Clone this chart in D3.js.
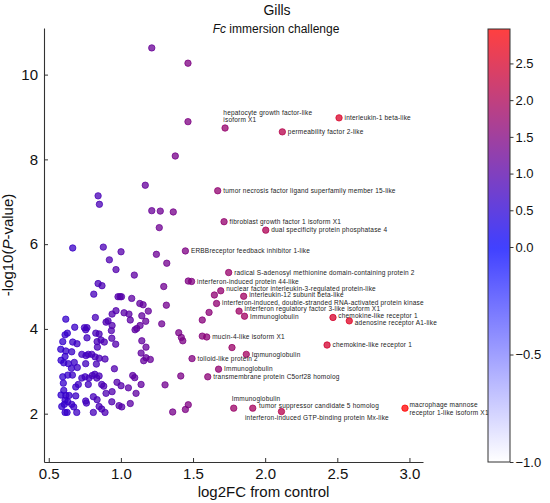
<!DOCTYPE html>
<html>
<head>
<meta charset="utf-8">
<script src="https://cdn.jsdelivr.net/npm/d3@7"></script>
<style>
  body { margin: 0; background: #fff; }
  svg { display: block; }
  text { font-family: "Liberation Sans", Arial, sans-serif; }
</style>
</head>
<body>
<svg id="svg"></svg>
<script>
// unlabelled genes: [log2FC, -log10(P)]
const otherGenes = [
  [1.214,10.63],[1.465,10.27],[1.465,8.89],[1.377,8.08],[1.169,7.39],[0.842,7.14],[0.851,6.94],
  [1.214,6.79],[1.273,6.78],[1.363,6.76],[1.266,6.39],[0.666,5.91],[0.878,5.93],[1.001,5.82],
  [1.246,5.76],[1.318,5.55],[0.920,5.63],[0.966,5.40],[1.093,5.27],[0.842,5.07],[0.869,5.02],
  [1.297,5.00],[0.812,4.82],[0.980,4.76],[0.994,4.76],[1.004,4.76],[1.075,4.72],[1.131,4.60],
  [1.154,4.57],[1.315,4.56],[0.966,4.43],[0.939,4.35],[1.022,4.38],[1.056,4.35],[1.190,4.42],
  [1.145,4.31],[0.618,4.23],[0.823,4.27],[1.065,4.21],[1.172,4.18],[0.911,4.19],[0.897,4.16],
  [0.939,4.08],[1.283,4.12],[0.680,4.04],[0.747,4.03],[0.765,4.03],[0.756,3.98],[1.110,4.01],
  [1.098,3.98],[1.133,4.08],[0.934,3.96],[0.629,3.90],[0.613,3.86],[0.826,3.90],[0.849,3.88],
  [0.937,3.78],[0.765,3.79],[0.835,3.70],[0.862,3.74],[0.885,3.69],[0.964,3.64],[0.837,3.57],
  [0.597,3.70],[0.666,3.69],[0.696,3.65],[0.583,3.52],[0.618,3.48],[0.613,3.35],[0.659,3.46],
  [0.729,3.40],[0.758,3.37],[0.774,3.40],[0.798,3.40],[0.821,3.34],[0.849,3.31],[0.890,3.29],
  [0.585,3.26],[0.604,3.20],[0.636,3.18],[0.677,3.21],[0.698,3.09],[0.756,3.18],[0.830,3.17],
  [0.657,3.07],[0.955,3.06],[1.145,3.72],[1.174,3.57],[1.140,3.43],[1.174,3.32],[1.158,3.25],
  [1.204,3.28],[0.597,2.87],[0.632,2.91],[0.664,2.91],[0.601,2.72],[0.729,2.84],[0.752,2.87],
  [0.779,2.84],[0.802,2.90],[0.833,2.84],[0.849,2.89],[0.705,2.69],[0.687,2.63],[0.774,2.69],
  [0.867,2.69],[0.881,2.65],[0.819,2.93],[1.082,2.90],[1.096,2.85],[1.001,2.66],[1.052,2.61],
  [1.140,2.69],[1.306,2.68],[0.973,2.74],[0.604,2.55],[0.585,2.44],[0.618,2.43],[0.641,2.43],
  [0.687,2.42],[0.613,2.32],[0.632,2.28],[0.590,2.17],[0.608,2.22],[0.659,2.22],[0.673,2.16],
  [0.756,2.30],[0.761,2.25],[0.809,2.40],[0.835,2.33],[0.897,2.48],[0.939,2.52],[0.937,2.28],
  [0.987,2.19],[1.006,2.16],[1.065,2.24],[1.105,2.48],[0.849,2.17],[0.867,2.11],[0.613,2.03],
  [0.627,2.03],[0.694,2.03],[0.809,2.03],[0.890,2.03],[1.359,2.04],[1.401,3.91],[1.419,3.80],
  [1.429,3.72],[1.467,2.21],[1.447,2.10],[1.415,2.89],[1.770,3.56],[1.648,4.80],
  [1.611,4.39],[1.564,4.21],[1.467,5.13],[1.564,3.83]
];

// labelled genes
const geneNames = [
  "hepatocyte growth factor-like\nisoform X1",
  "interleukin-1 beta-like",
  "permeability factor 2-like",
  "tumor necrosis factor ligand superfamily member 15-like",
  "fibroblast growth factor 1 isoform X1",
  "dual specificity protein phosphatase 4",
  "ERBBreceptor feedback inhibitor 1-like",
  "radical S-adenosyl methionine domain-containing protein 2",
  "interferon-induced protein 44-like",
  "nuclear factor interleukin-3-regulated protein-like",
  "interleukin-12 subunit beta-like",
  "interferon-induced, double-stranded RNA-activated protein kinase",
  "interferon regulatory factor 3-like isoform X1",
  "Immunoglobulin",
  "chemokine-like receptor 1",
  "adenosine receptor A1-like",
  "mucin-4-like isoform X1",
  "chemokine-like receptor 1",
  "Immunoglobulin",
  "tolloid-like protein 2",
  "Immunoglobulin",
  "transmembrane protein C5orf28 homolog",
  "Immunoglobulin",
  "tumor suppressor candidate 5 homolog",
  "interferon-induced GTP-binding protein Mx-like",
  "macrophage mannose\nreceptor 1-like isoform X1"
];
const geneFC = [1.722,2.512,2.119,1.671,1.715,2.004,1.447,1.747,1.490,1.692,1.851,1.663,1.819,
                1.857,2.470,2.583,1.595,2.429,1.869,1.493,1.677,1.602,1.782,1.914,2.113,2.969];
const geneP  = [8.74,8.98,8.65,7.26,6.53,6.33,5.84,5.33,5.12,4.90,4.77,4.60,4.42,
                4.30,4.27,4.19,3.81,3.62,3.40,3.30,3.05,2.87,2.13,2.13,2.05,2.13];

const xTicks = [0.5, 1.0, 1.5, 2.0, 2.5, 3.0];
const yTicks = [2, 4, 6, 8, 10];
const cbarTicks = [-1.0, -0.5, 0.0, 0.5, 1.0, 1.5, 2.0, 2.5];
const cbarMin = -1.0;

var W = 550, H = 503;
var svg = d3.select("#svg").attr("width", W).attr("height", H);

var allPts = otherGenes.map(d => ({fc: d[0], p: d[1]}))
  .concat(geneNames.map((n, i) => ({fc: geneFC[i], p: geneP[i], name: n, idx: i})));
var vmax = d3.max(allPts, d => d.fc);

var x = d3.scaleLinear().domain([0.467, 3.094]).range([44, 423]);
var y = d3.scaleLinear().domain([0.86, 11.1]).range([462, 28]);
var color = d3.scaleLinear().domain([cbarMin, 0, vmax]).range(["#ffffff", "#0000ff", "#ff0000"]);

// axes (ticks pointing inward, only left + bottom spines)
var xAxis = d3.axisBottom(x).tickValues(xTicks).tickFormat(d3.format(".1f"))
  .tickSizeInner(-4).tickSizeOuter(0).tickPadding(6);
var yAxis = d3.axisLeft(y).tickValues(yTicks).tickFormat(d3.format("d"))
  .tickSizeInner(-4).tickSizeOuter(0).tickPadding(6);

var gx = svg.append("g").attr("transform", "translate(0,462)").call(xAxis);
var gy = svg.append("g").attr("transform", "translate(44,0)").call(yAxis);
[gx, gy].forEach(g => {
  g.select(".domain").attr("stroke", "#333").attr("stroke-width", 1.1);
  g.selectAll(".tick line").attr("stroke", "#333").attr("stroke-width", 1);
  g.selectAll(".tick text").attr("fill", "#111").style("font-size", "15px")
    .style("font-family", '"Liberation Sans", Arial, sans-serif');
});

// points
svg.append("g").selectAll("circle")
  .data(allPts)
  .enter().append("circle")
  .attr("cx", d => x(d.fc))
  .attr("cy", d => y(d.p))
  .attr("r", 3.2)
  .attr("fill", d => color(d.fc))
  .attr("fill-opacity", 0.75)
  .attr("stroke", d => color(d.fc))
  .attr("stroke-opacity", 0.75)
  .attr("stroke-width", 1);

// gene labels (default: right of the point; a few nudged like the original)
var place = {
  0: {dx: -1.7, dy: -15.6},
  9: {dx: 5.5, dy: -2},
  10: {dx: 5.5, dy: -1.2},
  11: {dx: 5.5, dy: -0.8},
  12: {dx: 5.5, dy: -2.2},
  13: {dx: 5.5, dy: 1},
  14: {dx: 5.3, dy: -1.8},
  15: {dx: 5.5, dy: 1.8},
  22: {dx: -2, dy: -9.3},
  23: {dx: 6.3, dy: -2.7},
  24: {dx: -36.5, dy: 6.6},
  25: {dx: 4.5, dy: -3}
};
var lbl = svg.append("g").selectAll("text")
  .data(allPts.filter(d => d.name))
  .enter().append("text")
  .attr("fill", "#1a1a1a")
  .style("font-size", "6.5px")
  .style("letter-spacing", "0.2px")
  .attr("transform", d => {
    var o = place[d.idx] || {dx: 5.5, dy: 0};
    return `translate(${x(d.fc) + o.dx},${y(d.p) + o.dy})`;
  });
lbl.selectAll("tspan")
  .data(d => d.name.split("\n"))
  .enter().append("tspan")
  .attr("x", 0)
  .attr("y", (d, i) => i * 7.2)
  .attr("dy", "0.35em")
  .text(d => d);

// titles
svg.append("text").attr("x", 277).attr("y", 15).attr("text-anchor", "middle")
  .style("font-size", "14px").attr("fill", "#111").text("Gills");
var sub = svg.append("text").attr("x", 276).attr("y", 33).attr("text-anchor", "middle")
  .style("font-size", "12px").attr("fill", "#111");
sub.append("tspan").style("font-style", "italic").text("Fc");
sub.append("tspan").text(" immersion challenge");

// axis titles
svg.append("text").attr("x", 263.5).attr("y", 497).attr("text-anchor", "middle")
  .style("font-size", "15px").attr("fill", "#111").text("log2FC from control");
var yl = svg.append("text").attr("transform", "translate(13,245) rotate(-90)")
  .attr("text-anchor", "middle").style("font-size", "15px").attr("fill", "#111");
yl.append("tspan").text("-log10(");
yl.append("tspan").style("font-style", "italic").text("P");
yl.append("tspan").text("-value)");

// colour bar
var cb = d3.scaleLinear().domain([cbarMin, 0, vmax]).range([462, 247, 29]);
var cbX = 488, cbW = 22;
var grad = svg.append("defs").append("linearGradient")
  .attr("id", "cbgrad").attr("x1", "0%").attr("x2", "0%").attr("y1", "100%").attr("y2", "0%");
grad.selectAll("stop")
  .data(d3.range(0, 41).map(i => cbarMin + (vmax - cbarMin) * i / 40))
  .enter().append("stop")
  .attr("offset", d => (100 * (cb(cbarMin) - cb(d)) / (cb(cbarMin) - cb(vmax))) + "%")
  .style("stop-color", d => color(d));
svg.append("rect")
  .attr("x", cbX).attr("y", cb(vmax)).attr("width", cbW).attr("height", cb(cbarMin) - cb(vmax))
  .attr("fill", "url(#cbgrad)").attr("fill-opacity", 0.75);
svg.append("rect")
  .attr("x", cbX).attr("y", cb(vmax)).attr("width", cbW).attr("height", cb(cbarMin) - cb(vmax))
  .attr("fill", "none").attr("stroke", "#333").attr("stroke-width", 1);

var cbAxis = d3.axisRight(cb).tickValues(cbarTicks).tickFormat(d3.format(".1f"))
  .tickSizeInner(3.5).tickSizeOuter(0).tickPadding(2);
var gc = svg.append("g").attr("transform", `translate(${cbX + cbW},0)`).call(cbAxis);
gc.select(".domain").remove();
gc.selectAll(".tick line").attr("stroke", "#333");
gc.selectAll(".tick text").attr("fill", "#111").style("font-size", "13px")
  .style("font-family", '"Liberation Sans", Arial, sans-serif');
</script>
</body>
</html>
